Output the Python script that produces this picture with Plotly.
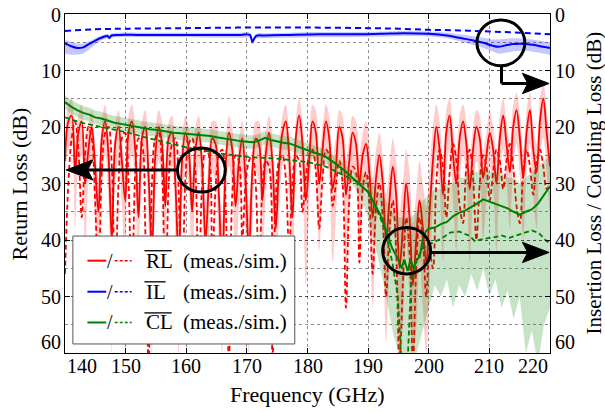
import plotly.graph_objects as go

# ---------------- data ----------------
# Return loss, measured (dB), uniform sweep 140..220 GHz
RL_meas = [26, 19, 18, 28, 21, 19, 30, 24, 20, 27, 35,
           22, 19, 25, 40, 23, 20, 26, 33, 21,
           19, 24, 36, 22, 20, 29, 42, 25, 20,
           23, 34, 22, 21, 30, 44, 26, 21, 24,
           35, 24, 21, 27, 40, 30, 22, 23, 32,
           46, 27, 21, 24, 34, 26, 22, 30, 42,
           28, 22, 23, 33, 25, 21, 26, 38, 27,
           21, 19, 25, 36, 22, 18, 23, 33, 26,
           19, 21, 30, 24, 19, 22, 31, 27, 20,
           22, 32, 26, 21, 23, 30, 25, 23, 28,
           36, 29, 25, 30, 40, 33, 27, 32, 45,
           38, 30, 36, 48, 40, 33, 38, 44, 35,
           26, 20, 24, 32, 21, 18, 25, 30, 22,
           19, 23, 31, 24, 20, 22, 29, 25, 21,
           24, 30, 22, 18, 23, 28, 20, 17, 22,
           29, 21, 17, 24, 28, 19, 15, 21, 27]
# Return loss, simulated (dB)
RL_sim = [46, 30, 22, 19, 24, 36, 25, 20, 22, 33, 48,
          28, 21, 20, 27, 50, 30, 22, 21, 30,
          52, 28, 22, 23, 38, 62, 30, 22, 21,
          27, 55, 30, 23, 22, 32, 54, 29, 23,
          22, 28, 48, 30, 24, 25, 45, 31, 25,
          24, 33, 62, 32, 25, 26, 40, 30, 26,
          25, 30, 48, 31, 26, 27, 62, 33, 26,
          25, 29, 42, 30, 25, 26, 35, 29, 25,
          24, 28, 38, 29, 24, 25, 34, 30, 26,
          30, 52, 33, 27, 28, 44, 31, 28, 33,
          46, 34, 30, 36, 50, 38, 33, 42, 62,
          48, 36, 42, 62, 45, 36, 40, 50, 42,
          45, 30, 24, 27, 36, 28, 23, 26, 34,
          37, 27, 24, 29, 40, 30, 25, 27, 33,
          28, 24, 26, 31, 26, 23, 27, 34, 37,
          28, 24, 27, 32, 26, 24, 27, 31, 30]
# Return loss measurement spread (upper / lower edge of shaded band)
RL_band_top = [22, 16, 15, 23, 18, 16, 25, 20, 17, 23, 29,
               19, 16, 21, 32, 20, 17, 22, 28, 18,
               16, 20, 30, 19, 17, 24, 34, 21, 17,
               19, 28, 19, 18, 25, 36, 22, 18, 20,
               29, 20, 18, 23, 33, 25, 19, 19, 27,
               37, 23, 18, 20, 28, 22, 19, 25, 34,
               24, 19, 19, 27, 21, 18, 22, 31, 23,
               18, 16, 21, 29, 19, 15, 19, 27, 22,
               16, 17, 25, 20, 16, 18, 25, 22, 17,
               18, 26, 22, 18, 19, 25, 21, 19, 23,
               29, 24, 21, 25, 32, 27, 22, 26, 35,
               30, 24, 28, 37, 32, 26, 30, 34, 27,
               20, 16, 19, 26, 17, 15, 20, 24, 18,
               16, 19, 25, 20, 17, 18, 24, 21, 17,
               20, 25, 18, 15, 19, 23, 16, 14, 18,
               24, 17, 14, 20, 23, 15, 12, 17, 22]
RL_band_bot = [32, 24, 23, 38, 27, 25, 42, 30, 26, 36, 50,
               28, 25, 33, 60, 30, 26, 34, 46, 27,
               25, 31, 52, 28, 26, 38, 60, 32, 26,
               30, 48, 28, 27, 40, 60, 34, 27, 31,
               50, 31, 27, 35, 58, 40, 28, 30, 44,
               60, 35, 27, 31, 48, 34, 28, 40, 60,
               37, 28, 30, 46, 32, 27, 34, 56, 35,
               27, 25, 33, 52, 29, 24, 30, 48, 34,
               25, 28, 42, 31, 25, 29, 44, 36, 26,
               29, 46, 34, 28, 30, 42, 33, 30, 38,
               52, 38, 33, 40, 58, 45, 36, 44, 60,
               55, 40, 50, 60, 56, 44, 52, 60, 48,
               34, 26, 31, 44, 28, 24, 33, 42, 29,
               25, 30, 44, 32, 26, 29, 40, 33, 27,
               31, 42, 29, 24, 30, 38, 27, 23, 29,
               40, 28, 23, 32, 38, 25, 22, 28, 37]

# Insertion loss
IL_f = [140, 141, 142, 143, 144, 145, 146, 147, 147.3, 147.7,
        149, 152, 156, 160, 165, 169, 170.5, 170.9, 171.5, 173,
        177, 182, 187, 192, 196, 200, 203, 205, 207, 209,
        210.5, 211.5, 212.5, 214, 216, 218, 220]
IL_meas = [5.2, 5.7, 6.0, 5.9, 5.3, 4.7, 4.2, 3.9, 4.2, 3.8,
           3.7, 3.7, 3.7, 3.7, 3.7, 3.7, 3.7, 4.9, 3.9, 3.8,
           3.7, 3.6, 3.6, 3.5, 3.4, 3.5, 3.8, 4.2, 4.6, 5.1,
           5.6, 5.8, 5.6, 5.3, 5.3, 5.6, 6.0]
IL_band_top = [4.6, 4.9, 5.2, 5.2, 4.8, 4.3, 3.8, 3.5, 3.7, 3.4,
               3.3, 3.3, 3.3, 3.3, 3.3, 3.3, 3.3, 4.4, 3.5, 3.4,
               3.3, 3.2, 3.2, 3.1, 3.0, 3.1, 3.3, 3.6, 3.9, 4.2,
               4.5, 4.5, 4.4, 4.3, 4.4, 4.7, 5.0]
IL_band_bot = [7.0, 7.2, 7.2, 7.0, 6.3, 5.4, 4.7, 4.3, 4.6, 4.2,
               4.1, 4.1, 4.1, 4.1, 4.2, 4.2, 4.2, 5.4, 4.4, 4.3,
               4.2, 4.1, 4.1, 4.0, 3.9, 4.0, 4.3, 4.8, 5.4, 6.0,
               6.6, 7.0, 6.9, 6.6, 6.5, 6.8, 7.2]
IL_sim_f = [140, 145, 150, 160, 170, 180, 190, 195, 200, 205, 210, 215, 220]
IL_sim = [3.0, 2.7, 2.6, 2.5, 2.4, 2.4, 2.5, 2.6, 2.8, 2.9, 3.1, 3.3, 3.6]

# Coupling loss
CL_f = list(range(140, 190)) + [190, 191, 192, 193, 194, 195, 195.5, 196, 196.5, 197,
                                197.5, 198, 198.5, 199, 199.5] + list(range(200, 221))
CL_meas = [15.6, 16.4, 17.0, 17.5, 17.8, 18.3, 18.5, 18.9, 19.2, 19.4,
           19.6, 19.9, 20.0, 20.3, 20.4, 20.5, 20.7, 20.9, 21.0, 21.1,
           21.2, 21.3, 21.3, 21.4, 21.6, 21.8, 22.0, 22.1, 22.3, 22.5,
           22.6, 22.7, 22.4, 21.9, 22.3, 22.6, 22.8, 22.9, 23.3, 23.8,
           24.1, 24.5, 24.8, 25.3, 26.0, 26.8, 27.6, 28.6, 29.6, 30.5,
           31.5, 33.5, 35.5, 38.5, 41.5, 43.5, 45.0, 43.5, 45.5, 43.5,
           45.0, 43.5, 43.0, 40.0, 38.5,
           38.0, 37.8, 37.2, 36.8, 35.8, 35.2, 34.8, 34.2, 33.5, 32.8,
           33.2, 33.6, 34.0, 34.4, 35.0, 35.5, 35.0, 34.6, 33.6, 32.0, 30.5]
CL_band_f = list(range(140, 221))
CL_band_top = [14.4, 15.2, 15.8, 16.3, 16.6, 17.1, 17.3, 17.7, 18.0, 18.2,
               18.4, 18.7, 18.8, 19.1, 19.2, 19.3, 19.5, 19.7, 19.8, 19.9,
               20.0, 20.1, 20.1, 20.2, 20.4, 20.6, 20.8, 20.9, 21.1, 21.3,
               21.4, 21.5, 21.2, 20.7, 21.1, 21.4, 21.6, 21.7, 22.1, 22.6,
               22.9, 23.3, 23.6, 24.1, 24.8, 25.6, 26.4, 27.4, 28.2,
               28.5, 29.5, 30.5, 32, 33, 35, 36, 36, 36, 35,
               33, 32, 31, 31, 30, 30, 29, 29, 28, 28,
               27, 28, 28, 28, 29, 29, 30, 29, 28, 27, 26, 25]
CL_band_bot = [16.8, 17.6, 18.2, 18.7, 19.0, 19.5, 19.7, 20.1, 20.4, 20.6,
               20.8, 21.1, 21.2, 21.5, 21.6, 21.7, 21.9, 22.1, 22.2, 22.3,
               22.4, 22.5, 22.5, 22.6, 22.8, 23.0, 23.2, 23.3, 23.5, 23.7,
               23.8, 23.9, 23.6, 23.1, 23.5, 23.8, 24.0, 24.1, 24.5, 25.0,
               25.3, 25.7, 26.0, 26.5, 27.2, 28.0, 28.8, 29.8, 31.0,
               33, 36, 40, 45, 50, 56, 60, 62, 62, 60,
               56, 52, 48, 50, 47, 52, 48, 50, 46, 49,
               45, 50, 47, 52, 49, 54, 50, 60, 56, 62, 55, 52]
CL_sim_f = [140, 143, 146, 150, 155, 160, 165, 170, 175, 180,
            183, 186, 188, 190, 192, 193, 194, 194.9, 195.5, 196.5,
            197.1, 198, 199, 200, 202, 203.5, 205, 206.8, 207.6,
            209, 210.5, 212, 213.3, 215, 217, 218.2, 219.4, 220]
CL_sim = [18.3, 19.3, 20.0, 20.9, 22.3, 23.6, 24.6, 25.3, 25.6, 26.2,
          27.0, 28.5, 29.6, 31.5, 36.0, 39.0, 44.0, 50.0, 62.0, 62.0,
          47.0, 43.5, 41.5, 40.8, 39.8, 38.7, 38.5, 39.3, 40.2,
          39.8, 39.6, 39.2, 39.6, 39.0, 38.3, 38.8, 40.2, 40.5]

X_TICKS = [140, 150, 160, 170, 180, 190, 200, 210, 220]
Y_TICKS = [0, 10, 20, 30, 40, 50, 60]

# ---------------- figure ----------------
def sweep(vals, start=140.0, stop=220.0):
    n = len(vals)
    return [start + (stop - start) * i / (n - 1) for i in range(n)]

RED, BLUE, GREEN = "#ff0000", "#0000ff", "#008000"
FONT = "Liberation Serif"

fig = go.Figure()

def band(x, top, bot, color, yaxis, shape="linear"):
    fig.add_trace(go.Scatter(x=x, y=top, mode="lines", yaxis=yaxis,
                             line=dict(width=0, shape=shape), hoverinfo="skip"))
    fig.add_trace(go.Scatter(x=x, y=bot, mode="lines", yaxis=yaxis,
                             line=dict(width=0, shape=shape), fill="tonexty",
                             fillcolor=color, hoverinfo="skip"))

band(sweep(RL_band_top), RL_band_top, RL_band_bot, "rgba(255,0,0,0.2)", "y", "spline")
fig.add_trace(go.Scatter(x=sweep(RL_sim), y=RL_sim, mode="lines", yaxis="y",
                         line=dict(color=RED, width=1.8, dash="5px,3px", shape="spline")))
fig.add_trace(go.Scatter(x=sweep(RL_meas), y=RL_meas, mode="lines", yaxis="y",
                         line=dict(color=RED, width=1.8, shape="spline")))

band(CL_band_f, CL_band_top, CL_band_bot, "rgba(0,128,0,0.22)", "y2")
band(IL_f, IL_band_top, IL_band_bot, "rgba(0,0,255,0.22)", "y2", "spline")
fig.add_trace(go.Scatter(x=CL_sim_f, y=CL_sim, mode="lines", yaxis="y2",
                         line=dict(color=GREEN, width=1.8, dash="5px,3px")))
fig.add_trace(go.Scatter(x=CL_f, y=CL_meas, mode="lines", yaxis="y2",
                         line=dict(color=GREEN, width=2)))
fig.add_trace(go.Scatter(x=IL_sim_f, y=IL_sim, mode="lines", yaxis="y2",
                         line=dict(color=BLUE, width=2, dash="6px,4px", shape="spline")))
fig.add_trace(go.Scatter(x=IL_f, y=IL_meas, mode="lines", yaxis="y2",
                         line=dict(color=BLUE, width=2, shape="spline")))

grid_col = "rgba(0,0,0,0.45)"
TICKFONT = dict(family=FONT, size=20, color="black")
fig.update_layout(
    template="none",
    width=605, height=412,
    margin=dict(l=65, r=55, t=14, b=59, autoexpand=False),
    plot_bgcolor="white", paper_bgcolor="white",
    showlegend=False,
    font=dict(family=FONT, size=20, color="black"),
    xaxis=dict(range=[140, 220], tickvals=X_TICKS, automargin=False,
               showticklabels=False,
               ticks="inside", ticklen=5, tickcolor="black",
               showline=True, linecolor="black", linewidth=1, mirror="ticks",
               showgrid=True, gridcolor=grid_col, griddash="dot", gridwidth=1,
               zeroline=False),
    yaxis=dict(range=[60, 0], tickvals=Y_TICKS, automargin=False,
               showticklabels=False,
               ticks="inside", ticklen=5, tickcolor="black",
               showline=True, linecolor="black", linewidth=1,
               showgrid=True, gridcolor=grid_col, griddash="dot", gridwidth=1,
               minor=dict(dtick=5, tick0=0, showgrid=True, gridcolor=grid_col,
                          griddash="dot", gridwidth=1, ticks=""),
               zeroline=False),
    yaxis2=dict(range=[60, 0], overlaying="y", side="right", tickvals=Y_TICKS,
                automargin=False, showticklabels=False,
                ticks="inside", ticklen=5, tickcolor="black",
                showline=True, linecolor="black", linewidth=1,
                showgrid=False, zeroline=False),
)

# ---------- decorations: circles and arrows ----------
shapes = []
def line(x0, y0, x1, y1, w=3, color="black", dash=None):
    d = dict(type="line", xref="x", yref="y", x0=x0, y0=y0, x1=x1, y1=y1,
             line=dict(color=color, width=w), layer="above")
    if dash:
        d["line"]["dash"] = dash
    shapes.append(d)

def circle(cx, cy, rx, ry):
    shapes.append(dict(type="circle", xref="x", yref="y", x0=cx - rx, x1=cx + rx,
                       y0=cy - ry, y1=cy + ry, line=dict(color="black", width=3),
                       layer="above"))

def head(tipx, tipy, direction):
    L, H = 4.4, 1.8
    bx = tipx - direction * L
    nx = tipx - direction * L * 0.8
    path = (f"M {tipx},{tipy} L {bx},{tipy - H} L {nx},{tipy} "
            f"L {bx},{tipy + H} Z")
    shapes.append(dict(type="path", xref="x", yref="y", path=path,
                       fillcolor="black", line=dict(color="black", width=1),
                       layer="above"))

# circle on RL, arrow to left axis
circle(162.5, 27.6, 3.95, 3.9)
line(158.55, 27.6, 143.0, 27.6)
head(140.2, 27.6, -1)
# circle on IL, arrow to right axis
circle(211.9, 5.1, 3.95, 4.05)
line(212.0, 9.15, 212.0, 12.3)
line(212.0, 12.3, 216.5, 12.3)
head(219.85, 12.3, 1)
# circle on CL, arrow to right axis
circle(196.35, 41.9, 3.95, 4.1)
line(200.3, 42.2, 216.5, 42.2)
head(219.85, 42.2, 1)

# ---------- legend box ----------
shapes.append(dict(type="rect", xref="x", yref="y", x0=141.3, x1=177.9, y0=39.3, y1=58.4,
                   fillcolor="white", line=dict(color="#555555", width=1), layer="above"))
rows = [(43.66, RED, "RL", 157.6, 41.9),
        (49.15, BLUE, "IL", 156.6, 47.4),
        (54.6, GREEN, "CL", 157.6, 52.9)]
annotations = []
for ry, col, lab, ox1, oy in rows:
    line(143.7, ry, 146.8, ry, w=2, color=col)
    line(148.2, ry, 151.0, ry, w=1.5, color=col, dash="3px,2px")
    line(153.1, oy, ox1, oy, w=1.3, color="black")
    annotations.append(dict(x=147.45, y=ry, xref="x", yref="y", text="/",
                            showarrow=False, xanchor="center", yanchor="middle",
                            font=dict(family=FONT, size=20)))
    annotations.append(dict(x=153.0, y=ry, xref="x", yref="y", text=lab,
                            showarrow=False, xanchor="left", yanchor="middle",
                            font=dict(family=FONT, size=21)))
    annotations.append(dict(x=159.1, y=ry, xref="x", yref="y", text="(meas./sim.)",
                            showarrow=False, xanchor="left", yanchor="middle",
                            font=dict(family=FONT, size=21)))

# tick labels (placed like the original: end labels kept inside the frame)
for v in X_TICKS:
    anchor = "left" if v == X_TICKS[0] else ("right" if v == X_TICKS[-1] else "center")
    annotations.append(dict(x=v, y=0, xref="x", yref="paper", text=str(v),
                            showarrow=False, xanchor=anchor, yanchor="middle",
                            yshift=-13, font=TICKFONT))
for v in Y_TICKS:
    ysh = 11 if v == Y_TICKS[-1] else (-1 if v == 0 else 0)
    annotations.append(dict(x=0, y=v, xref="paper", yref="y", text=str(v),
                            showarrow=False, xanchor="right", yanchor="middle",
                            xshift=-2, yshift=ysh, font=TICKFONT))
    annotations.append(dict(x=1, y=v, xref="paper", yref="y", text=str(v),
                            showarrow=False, xanchor="left", yanchor="middle",
                            xshift=3, yshift=ysh, font=TICKFONT))

# axis titles
annotations += [
    dict(x=0.5, y=-0.121, xref="paper", yref="paper", text="Frequency (GHz)",
         showarrow=False, xanchor="center", yanchor="middle",
         font=dict(family=FONT, size=22)),
    dict(x=-0.093, y=0.5, xref="paper", yref="paper", text="Return Loss (dB)",
         showarrow=False, xanchor="center", yanchor="middle", textangle=-90,
         font=dict(family=FONT, size=22)),
    dict(x=1.0887, y=0.5, xref="paper", yref="paper",
         text="Insertion Loss / Coupling Loss (dB)",
         showarrow=False, xanchor="center", yanchor="middle", textangle=-90,
         font=dict(family=FONT, size=21)),
]

fig.update_layout(shapes=shapes, annotations=annotations)
fig.write_html("out.html",
               config={"displayModeBar": False},
               post_script="document.body.style.margin='0';"
                           "document.body.style.overflow='hidden';")
